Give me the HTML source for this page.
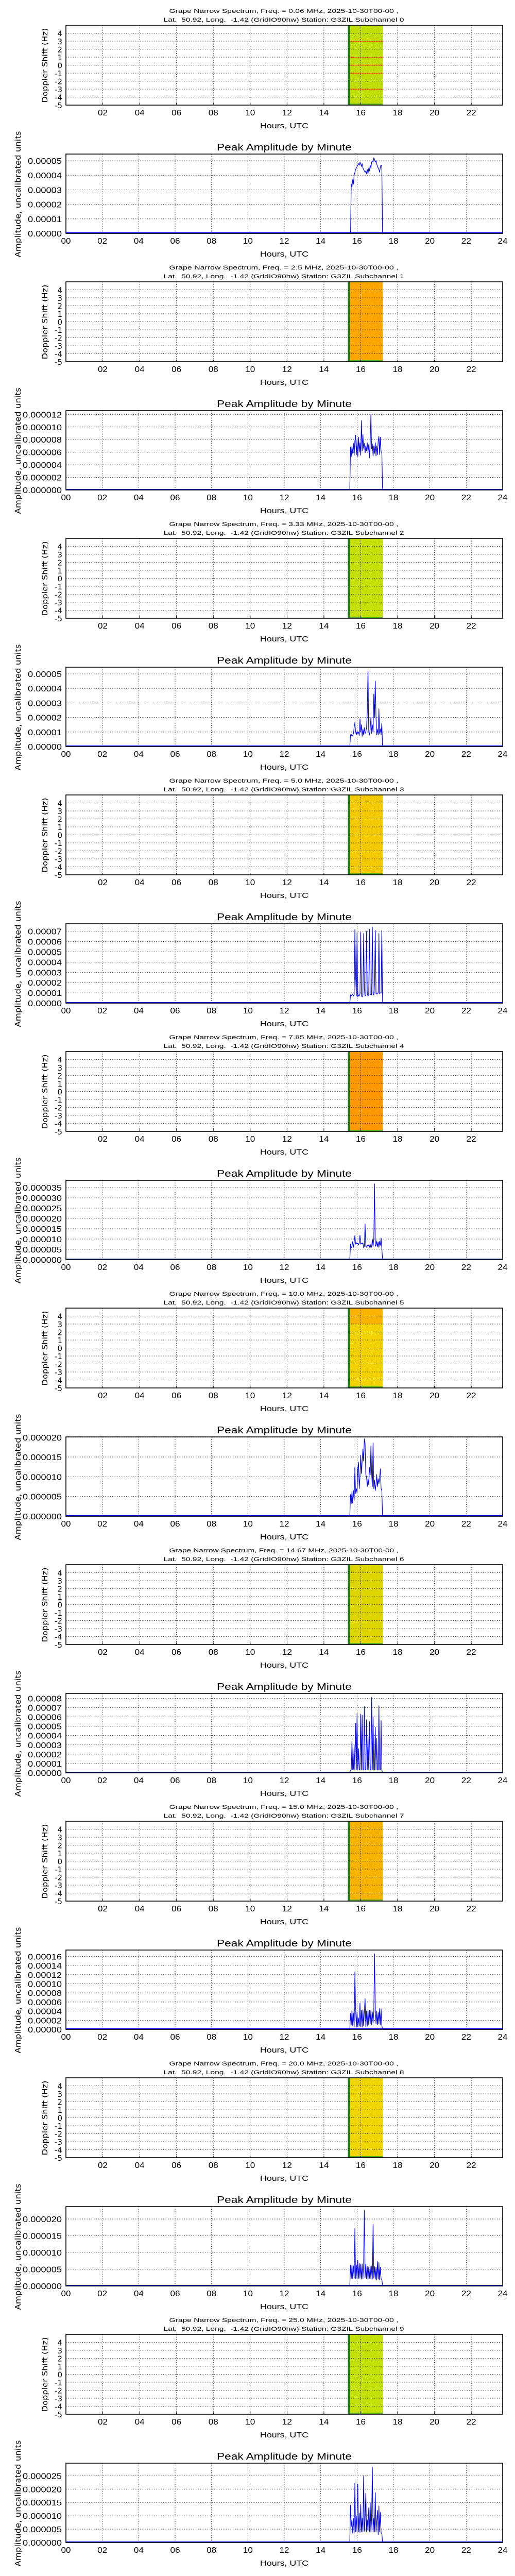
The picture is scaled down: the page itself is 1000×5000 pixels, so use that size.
<!DOCTYPE html>
<html><head><meta charset="utf-8"><title>Grape Narrow Spectrum</title>
<style>
html,body{margin:0;padding:0;background:#fff;}
svg{display:block;}
text{font-family:"DejaVu Sans","Liberation Sans",sans-serif;fill:#000;white-space:pre;}
.cond{font-family:"Liberation Sans",sans-serif;}
</style></head>
<body>
<svg id="root" xmlns="http://www.w3.org/2000/svg" width="1000" height="5000" viewBox="0 0 1000 5000">
<defs id="defs"></defs>
</svg>
<script>
// ---- data ----
const freqsMHz = ["0.06","2.5","3.33","5.0","7.85","10.0","14.67","15.0","20.0","25.0"];
const xTickHours = [0,2,4,6,8,10,12,14,16,18,20,22,24];
const spectroTickHours = [2,4,6,8,10,12,14,16,18,20,22];
const dopplerTicks = [-5,-4,-3,-2,-1,0,1,2,3,4];
const startHour = 15.60;
const stepHour = 0.04;
const yMaxes = [5.46e-5,1.26e-5,5.46e-5,7.74e-5,3.85e-5,2.01e-5,8.52e-5,1.74e-4,2.37e-5,2.97e-5];
const yTickSteps = [1e-5,2e-6,1e-5,1e-5,5e-6,5e-6,1e-5,2e-5,5e-6,5e-6];
const yDecimals = [5,6,5,5,6,6,5,5,6,6];
const unitScale = [1e-5,1e-6,1e-5,1e-5,1e-6,1e-6,1e-5,1e-5,1e-6,1e-6];
const ch0Values = [0,0,3.4,3.2,3.7,3.4,4.0,4.2,4.4,4.5,4.6,4.7,4.8,4.7,4.9,4.8,4.6,4.8,4.5,4.4,4.3,4.2,4.3,4.1,4.4,4.1,4.5,4.3,4.7,4.5,4.9,5.0,4.9,5.2,5.1,4.9,5.0,4.8,4.6,4.5,4.4,4.2,4.6,4.7,4.6,0];
const ch1Values = [0,6.8,5.3,6.9,5.8,7.4,5.5,7.8,8.7,5.6,8.0,5.3,8.4,6.0,7.5,5.5,11.0,6.2,8.8,6.6,7.4,5.9,7.0,6.2,7.5,6.0,7.2,5.1,7.6,12.0,6.5,7.3,5.4,7.0,5.8,7.5,5.4,7.0,5.6,7.8,8.5,5.6,8.4,6.0,6.0,0];
const ch2Values = [0,0.8,0.85,0.7,0.75,0.9,1.3,1.65,1.0,0.8,1.05,0.9,1.0,0.75,1.9,1.0,1.5,0.7,1.2,0.8,1.3,0.9,1.0,1.3,2.4,5.2,1.0,0.8,1.2,2.0,0.9,1.5,1.0,3.6,2.0,4.5,2.0,0.8,1.2,0.8,2.6,0.9,1.2,0.8,1.6,0];
const ch3Values = [0,0.8,0.7,0.8,0.9,0.7,0.8,7.2,2.6,0.7,6.9,0.6,0.8,0.7,0.9,6.9,0.7,0.6,0.8,6.8,1.3,0.7,0.8,7.0,0.9,0.7,0.8,7.2,0.9,0.8,0.8,7.4,0.9,0.8,1.8,7.1,0.9,0.9,0.9,1.0,6.8,0.9,1.0,1.0,7.1,0];
const ch4Values = [0,7.5,5.8,6.5,8.8,6.0,8.5,11.7,7.5,8.2,7.6,8.0,7.2,8.2,11.8,7.5,8.0,7.6,8.2,5.8,6.5,17.3,6.5,6.0,7.0,6.5,7.2,6.0,7.5,5.8,6.2,9.8,6.5,10.0,36.8,6.5,7.0,9.2,6.3,8.5,6.0,9.0,7.0,10.5,5.5,0];
const ch5Values = [0,5.5,3.2,6.3,3.3,6.5,4.0,12.3,5.8,7.0,6.0,12.0,13.7,7.0,10.0,15.5,10.8,14.0,17.0,14.0,19.6,18.5,10.5,10.0,7.5,9.5,8.0,12.3,10.5,17.8,11.0,7.5,18.6,7.0,9.2,6.5,8.0,10.6,7.5,9.5,8.2,9.8,12.0,7.0,6.5,0];
const ch6Values = [0,0.3,0.3,3.4,0.3,0.4,3.0,0.3,5.3,0.3,6.4,0.3,2.6,0.3,0.3,6.3,0.3,6.2,0.3,0.3,7.1,0.3,0.3,5.7,0.3,3.8,0.3,5.5,0.3,0.3,8.1,0.3,6.0,0.3,0.3,4.9,0.3,3.7,0.3,0.3,7.2,0.3,0.3,5.6,0.3,0];
const ch7Values = [0,3.5,1.0,4.2,0.8,3.6,0.5,12.6,4.8,0.5,3.8,0.6,2.5,0.7,5.7,0.6,4.2,0.5,4.3,0.8,4.0,6.7,0.6,4.0,0.7,4.1,1.0,4.2,1.2,4.2,1.0,3.8,1.5,4.0,16.6,4.6,1.2,4.0,1.0,3.7,1.2,4.6,1.0,4.5,0.8,0];
const ch8Values = [0,6.2,2.2,6.3,2.2,6.0,2.3,17.2,2.2,6.3,2.1,7.6,2.2,6.8,2.3,6.4,2.0,6.6,2.2,6.4,22.6,2.5,6.5,2.1,5.8,2.0,5.7,2.2,5.8,2.1,5.9,2.0,18.4,2.3,5.8,2.0,5.6,1.8,7.3,2.0,7.0,1.8,5.6,2.0,2.0,0];
const ch9Values = [0,14.0,6.0,8.5,3.5,9.0,3.5,22.3,4.0,10.0,3.8,21.8,4.0,11.0,3.8,14.2,4.0,9.0,4.0,25.0,4.2,8.8,18.4,4.0,8.5,4.5,13.0,4.0,15.0,4.0,9.0,28.2,4.0,9.0,4.0,18.7,4.0,8.0,12.0,3.0,13.7,4.0,11.3,3.5,3.5,0];
const allValues = [ch0Values,ch1Values,ch2Values,ch3Values,ch4Values,ch5Values,ch6Values,ch7Values,ch8Values,ch9Values];
const spectroStartHour = 15.3;
const spectroDataStart = 15.42;
const spectroEndHour = 17.2;
const spectroBase = ["#cfe400","#ff9600","#d4e600","#f0dc00","#ff8a00","#eee400","#d2e200","#f4a400","#ebe600","#d0e600"];
const spectroSpeck = ["#8fcc20","#ffd800","#98cc20","#ff9200","#ffc400","#ff9c00","#ffae00","#ffe000","#ffa800","#a0d020"];

// ---- layout ----
const NS = "http://www.w3.org/2000/svg";
const root = document.getElementById("root");
const defs = document.getElementById("defs");
const PERIOD = 498;
const AX_L = 128, AX_R = 976;
function mk(tag, attrs, parent){
  const e = document.createElementNS(NS, tag);
  for (const k in attrs) e.setAttribute(k, attrs[k]);
  (parent||root).appendChild(e);
  return e;
}
function txt(parent, x, y, s, size, anchor, len, extra){
  const t = mk("text", Object.assign({x:x, y:y, "font-size":size, "text-anchor":anchor||"middle"}, extra||{}), parent);
  if (len){ t.setAttribute("textLength", len); t.setAttribute("lengthAdjust","spacingAndGlyphs"); }
  t.textContent = s;
  return t;
}

for (let k = 0; k < 10; k++){
  const b = PERIOD * k;
  const g = mk("g", {});
  
  

  // speckle filter
  const f = mk("filter", {id:"speck"+k, x:"0", y:"0", width:"1", height:"1"}, defs);
  mk("feTurbulence", {type:"fractalNoise", baseFrequency:"0.55 0.9", numOctaves:"1", seed:String(k+3), result:"n"}, f);
  mk("feColorMatrix", {in:"n", type:"matrix", values:"0 0 0 0 0  0 0 0 0 0  0 0 0 0 0  3 0 0 0 -1.3", result:"a"}, f);
  mk("feComposite", {in:"SourceGraphic", in2:"a", operator:"in"}, f);

  // ---- title ----
  const t1 = txt(g, 551, b+25, "Grape Narrow Spectrum, Freq. = " + freqsMHz[k] + " MHz, 2025-10-30T00-00 ,", 11, "middle", 445, {class:"cond"});
  
  
  const t2 = txt(g, 551, b+42, "Lat.  50.92, Long.  -1.42 (GridIO90hw) Station: G3ZIL Subchannel " + k, 11, "middle", 467, {class:"cond"});
  
  

  // ---- spectrogram ----
  const sT = b+49, sB = b+204;
  const sx = h => AX_L + h * (AX_R - AX_L) / 23.7;
  const sy = v => sB - (v + 5) / 10 * (sB - sT);
  const sg = mk("g", {}, g);
  
  
  const dx0 = sx(spectroDataStart), dx1 = sx(spectroEndHour);
  const heat = mk("rect", {x:dx0, y:sT, width:dx1-dx0, height:sB-sT, fill:spectroBase[k]}, sg);
  
  
  mk("rect", {x:dx0, y:sT, width:dx1-dx0, height:sB-sT, fill:spectroSpeck[k], filter:"url(#speck"+k+")"}, sg);
  if (k === 5){ mk("rect", {x:dx0, y:sT, width:dx1-dx0, height:sy(3)-sT, fill:"#ff9a00", opacity:"0.55"}, sg); }
  if (k === 0){
    [3,1,0,-1,-3].forEach(v => { mk("rect", {x:dx0, y:sy(v)-1, width:dx1-dx0, height:2, fill:"#ff7a00"}, sg); });
  }
  mk("rect", {x:dx0, y:sB-3, width:dx1-dx0, height:3, fill:"#5cae20"}, sg);
  const stripe = mk("rect", {x:sx(spectroStartHour), y:sT, width:dx0-sx(spectroStartHour), height:sB-sT, fill:"#1e7a1e"}, sg);
  
  
  // grid
  spectroTickHours.forEach(h => {
    mk("line", {x1:sx(h), x2:sx(h), y1:sT, y2:sB, stroke:"#000", "stroke-width":"0.8", "stroke-dasharray":"1.5,3"}, sg);
    mk("line", {x1:sx(h), x2:sx(h), y1:sB, y2:sB-4, stroke:"#000"}, sg);
    const tl = txt(sg, sx(h), b+224, String(h).padStart(2,"0"), 16, "middle", 19, {class:"cond"});
    
    
  });
  dopplerTicks.forEach(v => {
    if (v > -5) mk("line", {x1:AX_L, x2:AX_R, y1:sy(v), y2:sy(v), stroke:"#000", "stroke-width":"0.8", "stroke-dasharray":"1.5,3"}, sg);
    const tl = txt(sg, 121, sy(v)+6, String(v), 15, "end");
    
    
  });
  mk("rect", {x:AX_L, y:sT, width:AX_R-AX_L, height:sB-sT, fill:"none", stroke:"#000", "stroke-width":"1.6"}, sg);
  const sxl = txt(sg, 552, b+249, "Hours, UTC", 15, "middle", 94, {class:"cond"});
  
  
  const syl = txt(sg, 0, 0, "Doppler Shift (Hz)", 14, "middle", 145, {transform:"translate(92,"+(b+127)+") rotate(-90)"});
  
  

  // ---- amplitude chart ----
  const aT = b+299, aB = b+453;
  const ax = h => AX_L + h * (AX_R - AX_L) / 24;
  const ay = v => aB - v / yMaxes[k] * (aB - aT);
  const ag = mk("g", {}, g);
  
  
  const at = txt(ag, 552, b+292, "Peak Amplitude by Minute", 18, "middle", 262, {class:"cond"});
  
  
  xTickHours.forEach(h => {
    if (h > 0 && h < 24) mk("line", {x1:ax(h), x2:ax(h), y1:aT, y2:aB, stroke:"#000", "stroke-width":"0.8", "stroke-dasharray":"1.5,3"}, ag);
    const tl = txt(ag, ax(h), b+473, String(h).padStart(2,"0"), 16, "middle", 19, {class:"cond"});
    
    
  });
  const nT = Math.floor(yMaxes[k] / yTickSteps[k] + 1e-9);
  for (let i = 0; i <= nT; i++){
    const v = i * yTickSteps[k];
    if (i > 0) mk("line", {x1:AX_L, x2:AX_R, y1:ay(v), y2:ay(v), stroke:"#000", "stroke-width":"0.8", "stroke-dasharray":"1.5,3"}, ag);
    const tl = txt(ag, 120, ay(v)+6, v.toFixed(yDecimals[k]), 16, "end", yDecimals[k] === 5 ? 66 : 76, {class:"cond"});
    
    
  }
  // series
  const vals = allValues[k];
  let pts = [[0,0],[startHour,0]];
  vals.forEach((v,i) => pts.push([startHour + i*stepHour, v*unitScale[k]]));
  pts.push([startHour + vals.length*stepHour, 0], [24,0]);
  const line = mk("polyline", {points: pts.map(p => ax(p[0]).toFixed(2)+","+ay(p[1]).toFixed(2)).join(" "), fill:"none", stroke:"#0000ff", "stroke-width":"1.2", "stroke-linejoin":"round"}, ag);
  
  
  mk("line", {x1:AX_L, x2:AX_R, y1:aB-1, y2:aB-1, stroke:"#0000ff", "stroke-width":"2"}, ag);
  mk("rect", {x:AX_L, y:aT, width:AX_R-AX_L, height:aB-aT, fill:"none", stroke:"#000", "stroke-width":"1.6"}, ag);
  const axl = txt(ag, 552, b+498, "Hours, UTC", 15, "middle", 94, {class:"cond"});
  
  
  const ayl = txt(ag, 0, 0, "Amplitude, uncalibrated units", 15, "middle", 245, {transform:"translate(40,"+(b+377)+") rotate(-90)"});
  
  
}
</script>
</body></html>
